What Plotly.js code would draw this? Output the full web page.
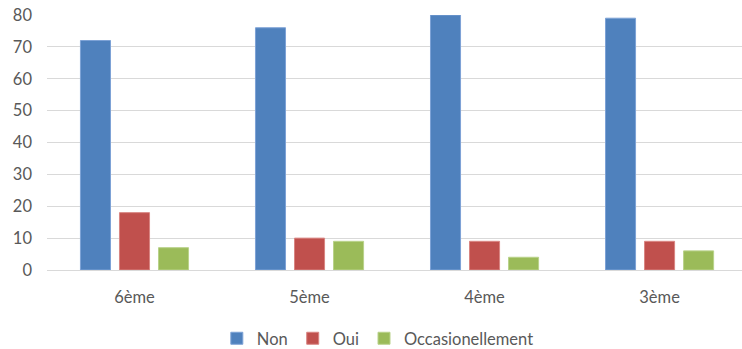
<!DOCTYPE html>
<html>
<head>
<meta charset="utf-8">
<script src="https://cdn.plot.ly/plotly-3.0.1.min.js"></script>
<style>
  html, body { margin: 0; padding: 0; background: #ffffff; }
  #chart { width: 742px; height: 349px; }
</style>
</head>
<body>
<div id="chart"></div>
<script>
// Classes and answers per class
const categories = ["6ème", "5ème", "4ème", "3ème"];
const seriesNames = ["Non", "Oui", "Occasionellement"];
const nonValues = [72, 76, 80, 79];
const ouiValues = [18, 10, 9, 9];
const occasionValues = [7, 9, 4, 6];
const yTicks = [0, 10, 20, 30, 40, 50, 60, 70, 80];

const fills = ["#4F81BD", "#C0504D", "#9BBB59"];
const edges = ["#7DA2D6", "#D98582", "#B9D28A"];
const valuesBySeries = [nonValues, ouiValues, occasionValues];

const traces = valuesBySeries.map((vals, i) => ({
  type: "bar",
  name: seriesNames[i],
  x: categories,
  y: vals,
  marker: { color: fills[i], line: { color: edges[i], width: 1 } },
  hoverinfo: "x+y+name"
}));

const font = { family: "Lato, 'Open Sans', sans-serif", color: "#595959", size: 16.5 };

const layout = {
  width: 742,
  height: 349,
  margin: { l: 47, r: 0, t: 15, b: 79 },
  paper_bgcolor: "#ffffff",
  plot_bgcolor: "#ffffff",
  font: font,
  barmode: "group",
  bargap: 0.331,
  bargroupgap: 0.23,
  showlegend: true,
  legend: {
    orientation: "h",
    xref: "paper",
    x: 0.476,
    xanchor: "center",
    yref: "container",
    y: 0.03,
    yanchor: "middle",
    font: font,
    itemwidth: 30,
    tracegroupgap: 0
  },
  xaxis: {
    type: "category",
    range: [-0.5, 3.471],
    showgrid: false,
    zeroline: false,
    showline: false,
    ticks: "",
    tickfont: font,
    ticklabelstandoff: 15
  },
  yaxis: {
    range: [0, 80],
    tickvals: yTicks,
    showgrid: true,
    gridcolor: "#D9D9D9",
    gridwidth: 1,
    zeroline: true,
    zerolinecolor: "#D9D9D9",
    zerolinewidth: 1,
    showline: false,
    ticks: "",
    tickfont: font,
    ticklabelstandoff: 14
  }
};

Plotly.newPlot("chart", traces, layout, { displayModeBar: false, staticPlot: true });
</script>
</body>
</html>
